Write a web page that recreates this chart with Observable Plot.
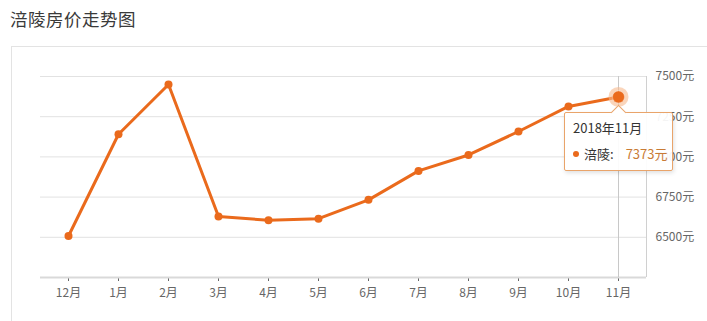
<!DOCTYPE html>
<html><head><meta charset="utf-8">
<script src="https://cdn.jsdelivr.net/npm/d3@7"></script>
<script src="https://cdn.jsdelivr.net/npm/@observablehq/plot@0.6"></script>
<style>
html,body{margin:0;padding:0;background:#fff;overflow:hidden;width:707px;height:321px;}
body{font-family:"Noto Sans CJK SC","Noto Sans",sans-serif;position:relative;}
#title{height:46px;box-sizing:border-box;padding:6px 0 0 10px;font-size:17.5px;color:#3a3a3a;letter-spacing:0.5px;}
#card{position:absolute;left:11px;top:46px;width:800px;height:400px;border:1px solid #e3e3e3;box-sizing:border-box;pointer-events:none;}
#chart{position:relative;}
#chart svg{display:block;}
g[aria-label^="x-axis"] line{stroke:#cfcfcf;}
#tip{position:absolute;box-sizing:border-box;background:rgba(255,255,255,0.93);border:1px solid #e9a46a;border-radius:2px;box-shadow:1px 2px 4px rgba(0,0,0,0.12);font-size:13px;color:#333;padding:6px 0 0 8px;white-space:nowrap;line-height:18px;}
#tip .row2{margin-top:8px;display:flex;align-items:center;white-space:nowrap;}
#tip .dot{display:inline-block;width:6px;height:6px;border-radius:3px;background:#ea6a1c;margin-right:5px;flex:none;}
#tip .val{color:#c97b35;margin-left:12px;}
#arrow{position:absolute;width:10px;height:10px;background:#fff;border-left:1px solid #e9a46a;border-top:1px solid #e9a46a;transform:rotate(45deg);}
</style></head>
<body>
<div id="title"></div>
<div id="card"></div>
<div id="chart"></div>
<script>
const titleText = "涪陵房价走势图";
const months = ["12月","1月","2月","3月","4月","5月","6月","7月","8月","9月","10月","11月"];
const prices = [6508, 7141, 7450, 6629, 6606, 6616, 6733, 6913, 7012, 7158, 7314, 7373];
const yTicks = [6500, 6750, 7000, 7250, 7500];
const yDomain = [6250, 7500];
const seriesName = "涪陵";
const tipDate = "2018年11月";
const tipIndex = 11;
const unit = "元";

document.getElementById("title").textContent = titleText;

const data = months.map((m, i) => ({month: m, price: prices[i]}));
const hi = [data[tipIndex]];
const orange = "#ea6a1c";

const chart = Plot.plot({
  width: 707,
  height: 275,
  marginLeft: 40,
  marginRight: 61,
  marginTop: 30,
  marginBottom: 44,
  style: {fontSize: "12px", color: "#666", fontFamily: '"Noto Sans CJK SC","Noto Sans",sans-serif', background: "transparent"},
  x: {type: "point", domain: months, padding: 0.5, label: null, tickSize: 4, tickPadding: 7},
  y: {domain: yDomain, axis: "right", ticks: yTicks, tickFormat: d => d + unit, tickSize: 0, tickPadding: 9, label: null},
  marks: [
    Plot.ruleY(yTicks, {stroke: "#e2e2e2", strokeWidth: 1}),
    Plot.ruleY([yDomain[0]], {stroke: "#d9d9d9", strokeWidth: 2}),
    Plot.ruleX(hi, {x: "month", y1: yDomain[0], y2: yDomain[1], stroke: "#c8c8c8", strokeWidth: 1}),
    Plot.line(data, {x: "month", y: "price", stroke: orange, strokeWidth: 3, strokeLinejoin: "round"}),
    Plot.dot(data, {x: "month", y: "price", r: 4, fill: orange, stroke: "none"}),
    Plot.dot(hi, {x: "month", y: "price", r: 10, fill: "#f6b98d", fillOpacity: 0.6, stroke: "none"}),
    Plot.dot(hi, {x: "month", y: "price", r: 6, fill: orange, stroke: "#fff", strokeOpacity: 0.3, strokeWidth: 1})
  ]
});
document.getElementById("chart").appendChild(chart);

// right border of plot area
const xs = chart.scale("x"), ys = chart.scale("y");
const xr = xs.range;
const right = Math.max(...xr) + 0.5;
d3.select(chart).append("line")
  .attr("x1", right).attr("x2", right)
  .attr("y1", ys.apply(yDomain[1])).attr("y2", ys.apply(yDomain[0]))
  .attr("stroke", "#d0d0d0").attr("stroke-width", 1);

// tooltip
const px = xs.apply(months[tipIndex]);
const py = ys.apply(prices[tipIndex]);
const chartTop = 46;
const tipW = 109, tipH = 59;
const tip = document.createElement("div");
tip.id = "tip";
tip.style.left = (px - 54) + "px";
tip.style.top = (chartTop + py + 16) + "px";
tip.style.width = tipW + "px";
tip.style.height = tipH + "px";
tip.innerHTML = `<div>${tipDate}</div><div class="row2"><span class="dot"></span><span>${seriesName}:</span><span class="val">${prices[tipIndex]}${unit}</span></div>`;
document.body.appendChild(tip);
const arrow = document.createElement("div");
arrow.id = "arrow";
arrow.style.left = (px - 5) + "px";
arrow.style.top = (chartTop + py + 11) + "px";
document.body.appendChild(arrow);
</script>
</body></html>
